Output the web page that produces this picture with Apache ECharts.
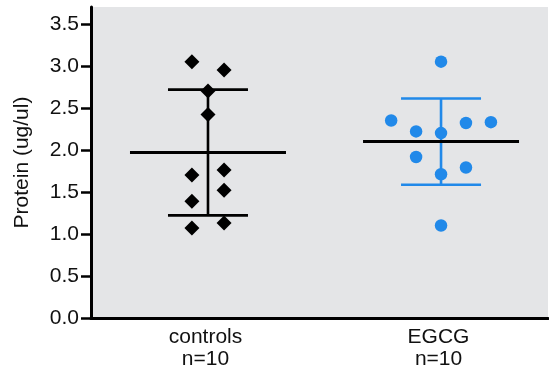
<!DOCTYPE html>
<html>
<head>
<meta charset="utf-8">
<script src="https://cdn.jsdelivr.net/npm/echarts@6/dist/echarts.min.js"></script>
<style>
  html, body { margin: 0; padding: 0; background: #ffffff; }
  #chart { width: 549px; height: 370px; }
</style>
</head>
<body>
<div id="chart"></div>
<script>
// Groups and their position on the x scale
const groups = ['controls', 'EGCG'];
const groupN = ['n=10', 'n=10'];
const groupX = [1, 2];

// Protein measurements (ug/ul) per animal
const controlsValues = [3.05, 2.95, 2.70, 2.42, 1.70, 1.76, 1.52, 1.39, 1.07, 1.13];
const egcgValues = [3.05, 2.35, 2.22, 2.20, 2.32, 2.33, 1.915, 1.79, 1.71, 1.10];

// Column slot of each point inside its group (scatter spread)
const controlsSlot = [-1, 1, 0, 0, -1, 1, 1, -1, -1, 1];
const egcgSlot = [0, -2, -1, 0, 1, 2, -1, 1, 0, 0];

// Y axis tick values
const yTicks = [0, 0.5, 1.0, 1.5, 2.0, 2.5, 3.0, 3.5];

const FONT = '"Liberation Sans", Arial, sans-serif';
const BLUE = '#2189e9';

function mean(a) { return a.reduce((s, v) => s + v, 0) / a.length; }
function sd(a) {
  const m = mean(a);
  return Math.sqrt(a.reduce((s, v) => s + (v - m) * (v - m), 0) / (a.length - 1));
}

const summary = [
  { x: groupX[0], mean: mean(controlsValues), sd: sd(controlsValues), bar: '#000000', line: '#000000' },
  { x: groupX[1], mean: mean(egcgValues), sd: sd(egcgValues), bar: BLUE, line: '#000000' }
];

const controlsPoints = controlsValues.map((v, i) => [groupX[0] + controlsSlot[i] * 0.069, v]);
const egcgPoints = egcgValues.map((v, i) => [groupX[1] + egcgSlot[i] * 0.107, v]);

const chart = echarts.init(document.getElementById('chart'), null, { renderer: 'canvas' });

chart.setOption({
  animation: false,
  backgroundColor: '#ffffff',
  grid: {
    left: 91, right: 1, top: 7, bottom: 51,
    show: true, backgroundColor: '#e4e5e7', borderWidth: 0
  },
  xAxis: {
    type: 'value',
    min: 0.498, max: 2.459,
    splitLine: { show: false },
    axisLine: { show: true, onZero: false, lineStyle: { color: '#000', width: 3 } },
    axisTick: { show: false },
    axisLabel: {
      customValues: groupX,
      margin: 8,
      color: '#111111',
      fontFamily: FONT,
      fontSize: 21,
      lineHeight: 22,
      padding: [0, 5, 0, 0],
      formatter: v => {
        const i = groupX.indexOf(Math.round(v));
        return i >= 0 ? groups[i] + '\n' + groupN[i] : '';
      }
    }
  },
  yAxis: {
    type: 'value',
    min: 0, max: 3.7,
    name: 'Protein (ug/ul)',
    nameLocation: 'middle',
    nameGap: 58,
    nameTextStyle: { color: '#111111', fontFamily: FONT, fontSize: 21 },
    splitLine: { show: false },
    axisLine: { show: true, lineStyle: { color: '#000', width: 3 } },
    axisTick: {
      show: true, length: 10, customValues: yTicks,
      lineStyle: { color: '#000', width: 2.5 }
    },
    axisLabel: {
      customValues: yTicks,
      margin: 12,
      color: '#111111',
      fontFamily: FONT,
      fontSize: 21,
      formatter: v => v.toFixed(1)
    }
  },
  series: [
    {
      // mean line with ±SD error bar for each group
      type: 'custom',
      z: 2,
      data: summary.map(s => [s.x, s.mean, s.sd]),
      renderItem: (params, api) => {
        const s = summary[params.dataIndex];
        const x = api.value(0), m = api.value(1), d = api.value(2);
        const pm = api.coord([x, m]);
        const pHi = api.coord([x, m + d]);
        const pLo = api.coord([x, m - d]);
        const capHalf = 40, meanHalf = 78;
        return {
          type: 'group',
          children: [
            { type: 'line', shape: { x1: pm[0], y1: pHi[1], x2: pm[0], y2: pLo[1] },
              style: { stroke: s.bar, lineWidth: 2.6 } },
            { type: 'line', shape: { x1: pm[0] - capHalf, y1: pHi[1], x2: pm[0] + capHalf, y2: pHi[1] },
              style: { stroke: s.bar, lineWidth: 2.6 } },
            { type: 'line', shape: { x1: pm[0] - capHalf, y1: pLo[1], x2: pm[0] + capHalf, y2: pLo[1] },
              style: { stroke: s.bar, lineWidth: 2.6 } },
            { type: 'line', shape: { x1: pm[0] - meanHalf, y1: pm[1], x2: pm[0] + meanHalf, y2: pm[1] },
              style: { stroke: s.line, lineWidth: 3 } }
          ]
        };
      }
    },
    {
      name: 'controls',
      type: 'scatter',
      z: 3,
      symbol: 'diamond',
      symbolSize: 15,
      itemStyle: { color: '#000000', opacity: 1 },
      data: controlsPoints
    },
    {
      name: 'EGCG',
      type: 'scatter',
      z: 3,
      symbol: 'circle',
      symbolSize: 12.5,
      itemStyle: { color: BLUE, opacity: 1 },
      data: egcgPoints
    }
  ]
});
</script>
</body>
</html>
